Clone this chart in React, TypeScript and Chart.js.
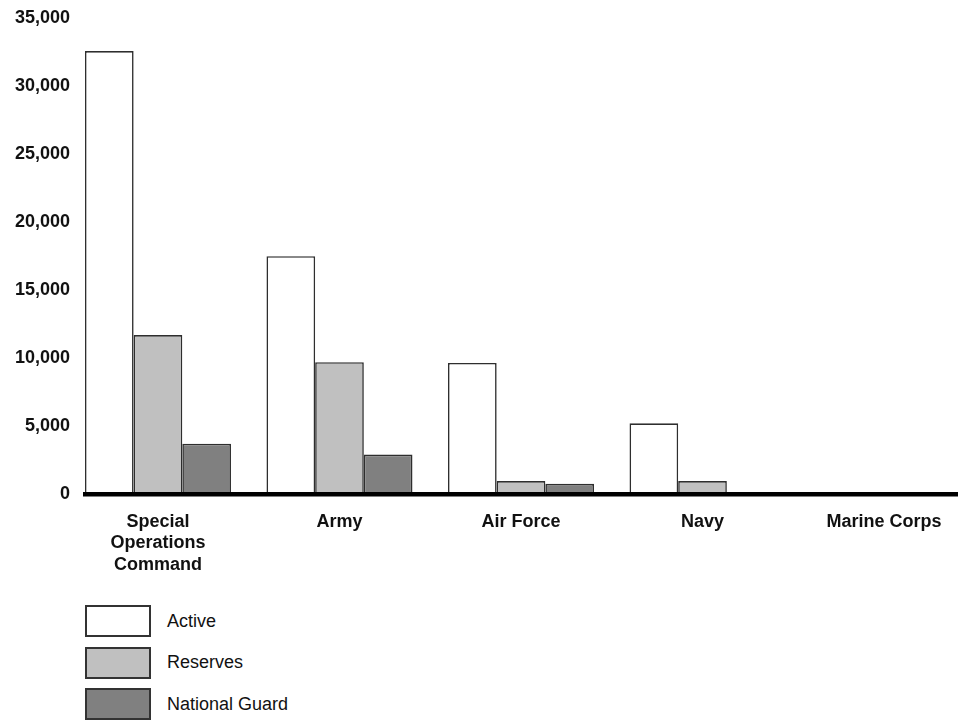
import React, { useEffect, useRef } from 'react';
import { Chart, registerables } from 'chart.js';

Chart.register(...registerables);

const categories: (string | string[])[] = [
  ['Special', 'Operations', 'Command'],
  'Army',
  'Air Force',
  'Navy',
  'Marine Corps',
];
const seriesNames = ['Active', 'Reserves', 'National Guard'];
const activeValues = [32600, 17500, 9650, 5200, 0];
const reservesValues = [11700, 9700, 950, 950, 0];
const guardValues = [3700, 2900, 750, 0, 0];
const seriesColors = ['#ffffff', '#c0c0c0', '#808080'];
const yMax = 35000;
const yStep = 5000;

const FONT = '"Liberation Sans", Arial, Helvetica, sans-serif';

export default function App() {
  const canvasRef = useRef<HTMLCanvasElement | null>(null);

  useEffect(() => {
    if (!canvasRef.current) return;
    const series = [activeValues, reservesValues, guardValues];
    const chart = new Chart(canvasRef.current, {
      type: 'bar',
      data: {
        datasets: series.map((vals, si) => ({
          label: seriesNames[si],
          data: vals.map((v, i) => ({ x: i, y: v })),
          backgroundColor: seriesColors[si],
          borderColor: '#2e2e2e',
          borderWidth: 1.6,
          barPercentage: 1,
          categoryPercentage: 0.8044,
        })),
      },
      options: {
        animation: false,
        responsive: true,
        maintainAspectRatio: false,
        layout: { padding: { top: 18.5, left: 0, right: 5, bottom: 0 } },
        plugins: {
          legend: { display: false },
          tooltip: { enabled: false },
        },
        events: [],
        scales: {
          x: {
            type: 'linear',
            offset: false,
            min: -0.402,
            max: categories.length - 1 + 0.402,
            grid: { display: false, drawTicks: false },
            border: { display: true, width: 4.5, color: '#000000', z: 1 },
            afterBuildTicks: (scale: any) => {
              scale.ticks = categories.map((_, i) => ({ value: i }));
            },
            afterFit: (scale: any) => {
              scale.height = 106;
            },
            ticks: {
              autoSkip: false,
              maxRotation: 0,
              padding: 17,
              color: '#111111',
              font: { family: FONT, size: 18, weight: 'bold', lineHeight: 1.2 },
              callback: (value: any) => categories[Math.round(Number(value))] as any,
            },
          },
          y: {
            min: 0,
            max: yMax,
            grid: { display: false, drawTicks: false },
            border: { display: false },
            afterFit: (scale: any) => {
              scale.width = 85;
              scale.paddingTop = 0;
              scale.paddingBottom = 0;
            },
            ticks: {
              stepSize: yStep,
              padding: 15,
              color: '#111111',
              font: { family: FONT, size: 18, weight: 'bold' },
              callback: (value: any) => Number(value).toLocaleString('en-US'),
            },
          },
        },
      } as any,
    });
    return () => chart.destroy();
  }, []);

  return (
    <div
      style={{
        position: 'fixed',
        left: 0,
        top: 0,
        width: 962,
        height: 720,
        overflow: 'hidden',
        background: '#ffffff',
        fontFamily: FONT,
      }}
    >
      <div style={{ position: 'absolute', left: 0, top: 0, width: 962, height: 600 }}>
        <canvas ref={canvasRef} />
      </div>
      {seriesNames.map((name, i) => (
        <div
          key={name}
          style={{
            position: 'absolute',
            left: 85,
            top: 605 + i * 41.5,
            height: 32,
            display: 'flex',
            alignItems: 'center',
          }}
        >
          <div
            style={{
              width: 66,
              height: 32,
              boxSizing: 'border-box',
              border: '2px solid #333333',
              background: seriesColors[i],
            }}
          />
          <span style={{ marginLeft: 16, fontSize: 18, color: '#111111' }}>{name}</span>
        </div>
      ))}
    </div>
  );
}
